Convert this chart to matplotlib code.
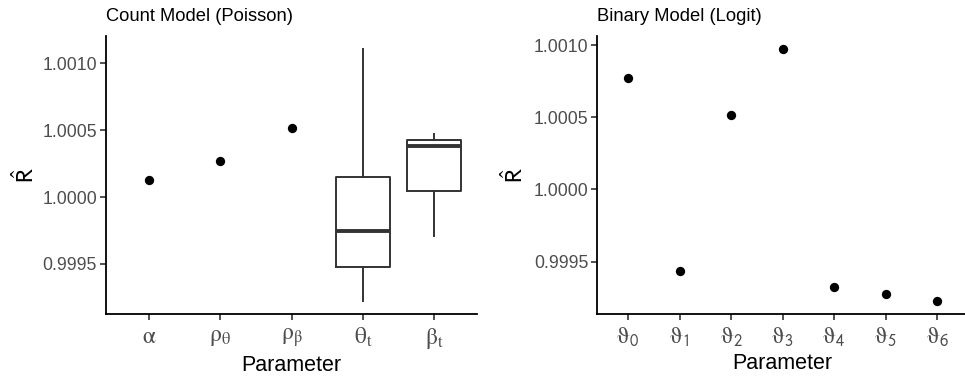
import matplotlib
matplotlib.use("Agg")
import matplotlib.pyplot as plt
import numpy as np

plt.rcParams['font.family'] = ['Liberation Sans', 'DejaVu Sans']
plt.rcParams['mathtext.fontset'] = 'stix'
plt.rcParams['mathtext.default'] = 'rm'

# ---- data ----
count_point_labels = [r'$\alpha$', r'$\rho_\theta$', r'$\rho_\beta$']
count_point_values = [1.00013, 1.00027, 1.00052]
count_box_labels = [r'$\theta_t$', r'$\beta_t$']
box_whislo = [0.99922, 0.999707]
box_q1 = [0.999477, 1.000042]
box_med = [0.999745, 1.000383]
box_q3 = [1.000152, 1.000428]
box_whishi = [1.00111, 1.00047]

binary_labels = [r'$\vartheta_{\mathsf{%d}}$' % i for i in range(7)]
binary_values = [1.000769, 0.999434, 1.000519, 1.000976, 0.999323, 0.999273, 0.999224]

yticks_left = [0.9995, 1.0000, 1.0005, 1.0010]
yticks_right = [0.9995, 1.0000, 1.0005, 1.0010]

W, H = 965, 377
fig = plt.figure(figsize=(W / 100, H / 100), dpi=100)

axL = fig.add_axes([106 / W, (H - 314) / H, 371 / W, 278 / H])
axR = fig.add_axes([597.3 / W, (H - 314) / H, 370.8 / W, 278 / H])

tick_color = '#4D4D4D'
line_col = '#333333'

def style(ax, ylabelpad):
    for s in ['top', 'right']:
        ax.spines[s].set_visible(False)
    for s in ['left', 'bottom']:
        ax.spines[s].set_linewidth(1.3)
        ax.spines[s].set_color('black')
    ax.tick_params(axis='both', length=4.5, width=1.2, color='#333333',
                   labelcolor=tick_color, pad=2)
    ax.tick_params(axis='y', labelsize=12.7)
    ax.tick_params(axis='x', labelsize=17, pad=4)
    ax.set_xlabel('Parameter', fontsize=15.5, labelpad=3)
    ax.set_ylabel(r'$\hat{\mathsf{R}}$', fontsize=17, labelpad=ylabelpad)

# ---- left panel ----
n_left = len(count_point_labels) + len(count_box_labels)
xpos_points = np.arange(1, len(count_point_labels) + 1)
xpos_boxes = np.arange(len(count_point_labels) + 1, n_left + 1)
axL.scatter(xpos_points, count_point_values, s=45, color='black', zorder=3, linewidths=0)
stats = []
for i in range(len(count_box_labels)):
    stats.append(dict(whislo=box_whislo[i], q1=box_q1[i], med=box_med[i],
                      q3=box_q3[i], whishi=box_whishi[i], fliers=[]))
axL.bxp(stats, positions=xpos_boxes, widths=0.75, showcaps=False, manage_ticks=False,
        boxprops=dict(color=line_col, linewidth=1.4),
        whiskerprops=dict(color=line_col, linewidth=1.4),
        medianprops=dict(color=line_col, linewidth=2.8))
axL.set_xlim(0.4, n_left + 0.6)
lo = min(box_whislo + count_point_values)
hi = max(box_whishi + count_point_values)
pad = (hi - lo) * 0.05
axL.set_ylim(lo - pad, hi + pad)
axL.set_xticks(np.arange(1, n_left + 1))
axL.set_xticklabels(count_point_labels + count_box_labels)
axL.set_yticks(yticks_left)
axL.set_yticklabels(['%.4f' % v for v in yticks_left])
style(axL, 2)
axL.set_title('Count Model (Poisson)', loc='left', fontsize=13.2, pad=11)

# ---- right panel ----
xr = np.arange(1, len(binary_values) + 1)
axR.scatter(xr, binary_values, s=45, color='black', zorder=3, linewidths=0)
axR.set_xlim(0.4, len(binary_values) + 0.6)
lo = min(binary_values); hi = max(binary_values); pad = (hi - lo) * 0.05
axR.set_ylim(lo - pad, hi + pad)
axR.set_xticks(xr)
axR.set_xticklabels(binary_labels)
axR.set_yticks(yticks_right)
axR.set_yticklabels(['%.4f' % v for v in yticks_right])
style(axR, 4)
axR.set_title('Binary Model (Logit)', loc='left', fontsize=13.2, pad=11)

fig.savefig('out.png', dpi=100)
